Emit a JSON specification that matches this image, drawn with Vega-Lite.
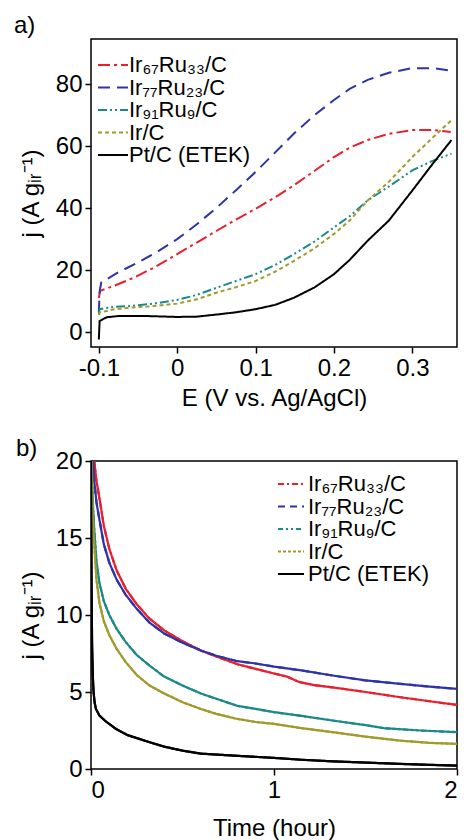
{
  "$schema": "https://vega.github.io/schema/vega-lite/v6.json",
  "padding": {"left": 13, "top": 13, "right": 0, "bottom": 0},
  "spacing": 25,
  "datasets": {
    "a": [
      {"s": "Ir₆₇Ru₃₃/C", "x": -0.1, "y": 11}, {"s": "Ir₆₇Ru₃₃/C", "x": -0.0985, "y": 13.3}, {"s": "Ir₆₇Ru₃₃/C", "x": -0.08, "y": 15}, {"s": "Ir₆₇Ru₃₃/C", "x": -0.055, "y": 17.6}, {"s": "Ir₆₇Ru₃₃/C", "x": -0.03, "y": 20.8}, {"s": "Ir₆₇Ru₃₃/C", "x": 0, "y": 25.2}, {"s": "Ir₆₇Ru₃₃/C", "x": 0.025, "y": 28.9}, {"s": "Ir₆₇Ru₃₃/C", "x": 0.051, "y": 32.8}, {"s": "Ir₆₇Ru₃₃/C", "x": 0.075, "y": 36.3}, {"s": "Ir₆₇Ru₃₃/C", "x": 0.1, "y": 39.8}, {"s": "Ir₆₇Ru₃₃/C", "x": 0.125, "y": 43.5}, {"s": "Ir₆₇Ru₃₃/C", "x": 0.149, "y": 47.4}, {"s": "Ir₆₇Ru₃₃/C", "x": 0.175, "y": 52}, {"s": "Ir₆₇Ru₃₃/C", "x": 0.2, "y": 56.5}, {"s": "Ir₆₇Ru₃₃/C", "x": 0.22, "y": 59.5}, {"s": "Ir₆₇Ru₃₃/C", "x": 0.243, "y": 62}, {"s": "Ir₆₇Ru₃₃/C", "x": 0.27, "y": 64}, {"s": "Ir₆₇Ru₃₃/C", "x": 0.3, "y": 65.2}, {"s": "Ir₆₇Ru₃₃/C", "x": 0.328, "y": 65.2}, {"s": "Ir₆₇Ru₃₃/C", "x": 0.349, "y": 64.6},
      {"s": "Ir₇₇Ru₂₃/C", "x": -0.1, "y": 6.3}, {"s": "Ir₇₇Ru₂₃/C", "x": -0.099, "y": 13}, {"s": "Ir₇₇Ru₂₃/C", "x": -0.097, "y": 16}, {"s": "Ir₇₇Ru₂₃/C", "x": -0.076, "y": 19.2}, {"s": "Ir₇₇Ru₂₃/C", "x": -0.05, "y": 22.5}, {"s": "Ir₇₇Ru₂₃/C", "x": -0.025, "y": 26}, {"s": "Ir₇₇Ru₂₃/C", "x": 0, "y": 30}, {"s": "Ir₇₇Ru₂₃/C", "x": 0.025, "y": 34.8}, {"s": "Ir₇₇Ru₂₃/C", "x": 0.051, "y": 40.3}, {"s": "Ir₇₇Ru₂₃/C", "x": 0.075, "y": 45.8}, {"s": "Ir₇₇Ru₂₃/C", "x": 0.1, "y": 51.7}, {"s": "Ir₇₇Ru₂₃/C", "x": 0.125, "y": 58}, {"s": "Ir₇₇Ru₂₃/C", "x": 0.149, "y": 64.1}, {"s": "Ir₇₇Ru₂₃/C", "x": 0.175, "y": 70}, {"s": "Ir₇₇Ru₂₃/C", "x": 0.2, "y": 74.9}, {"s": "Ir₇₇Ru₂₃/C", "x": 0.22, "y": 78.5}, {"s": "Ir₇₇Ru₂₃/C", "x": 0.243, "y": 81.4}, {"s": "Ir₇₇Ru₂₃/C", "x": 0.27, "y": 83.7}, {"s": "Ir₇₇Ru₂₃/C", "x": 0.3, "y": 85.2}, {"s": "Ir₇₇Ru₂₃/C", "x": 0.328, "y": 85.2}, {"s": "Ir₇₇Ru₂₃/C", "x": 0.349, "y": 84.4},
      {"s": "Ir₉₁Ru₉/C", "x": -0.1, "y": 5.7}, {"s": "Ir₉₁Ru₉/C", "x": -0.099, "y": 7.4}, {"s": "Ir₉₁Ru₉/C", "x": -0.08, "y": 8.2}, {"s": "Ir₉₁Ru₉/C", "x": -0.06, "y": 8.4}, {"s": "Ir₉₁Ru₉/C", "x": -0.03, "y": 9.2}, {"s": "Ir₉₁Ru₉/C", "x": 0, "y": 10.4}, {"s": "Ir₉₁Ru₉/C", "x": 0.025, "y": 12}, {"s": "Ir₉₁Ru₉/C", "x": 0.051, "y": 14.4}, {"s": "Ir₉₁Ru₉/C", "x": 0.075, "y": 16.5}, {"s": "Ir₉₁Ru₉/C", "x": 0.1, "y": 18.7}, {"s": "Ir₉₁Ru₉/C", "x": 0.125, "y": 21.7}, {"s": "Ir₉₁Ru₉/C", "x": 0.149, "y": 25.2}, {"s": "Ir₉₁Ru₉/C", "x": 0.175, "y": 29.2}, {"s": "Ir₉₁Ru₉/C", "x": 0.2, "y": 33.8}, {"s": "Ir₉₁Ru₉/C", "x": 0.22, "y": 37.4}, {"s": "Ir₉₁Ru₉/C", "x": 0.243, "y": 42.5}, {"s": "Ir₉₁Ru₉/C", "x": 0.27, "y": 47}, {"s": "Ir₉₁Ru₉/C", "x": 0.3, "y": 52.2}, {"s": "Ir₉₁Ru₉/C", "x": 0.325, "y": 55.2}, {"s": "Ir₉₁Ru₉/C", "x": 0.35, "y": 57.6},
      {"s": "Ir/C", "x": -0.1, "y": 5.5}, {"s": "Ir/C", "x": -0.099, "y": 6.3}, {"s": "Ir/C", "x": -0.08, "y": 7.4}, {"s": "Ir/C", "x": -0.06, "y": 7.9}, {"s": "Ir/C", "x": -0.03, "y": 8.4}, {"s": "Ir/C", "x": 0, "y": 9.2}, {"s": "Ir/C", "x": 0.025, "y": 10.6}, {"s": "Ir/C", "x": 0.051, "y": 12.8}, {"s": "Ir/C", "x": 0.075, "y": 14.5}, {"s": "Ir/C", "x": 0.1, "y": 16.5}, {"s": "Ir/C", "x": 0.125, "y": 19.5}, {"s": "Ir/C", "x": 0.149, "y": 23}, {"s": "Ir/C", "x": 0.175, "y": 27}, {"s": "Ir/C", "x": 0.2, "y": 31.7}, {"s": "Ir/C", "x": 0.22, "y": 36}, {"s": "Ir/C", "x": 0.243, "y": 42.5}, {"s": "Ir/C", "x": 0.27, "y": 48.5}, {"s": "Ir/C", "x": 0.3, "y": 56.5}, {"s": "Ir/C", "x": 0.325, "y": 62.5}, {"s": "Ir/C", "x": 0.35, "y": 68.4},
      {"s": "Pt/C (ETEK)", "x": -0.1, "y": -2.4}, {"s": "Pt/C (ETEK)", "x": -0.099, "y": 3.6}, {"s": "Pt/C (ETEK)", "x": -0.09, "y": 4.8}, {"s": "Pt/C (ETEK)", "x": -0.075, "y": 5.2}, {"s": "Pt/C (ETEK)", "x": -0.04, "y": 5.2}, {"s": "Pt/C (ETEK)", "x": 0, "y": 4.9}, {"s": "Pt/C (ETEK)", "x": 0.025, "y": 5.0}, {"s": "Pt/C (ETEK)", "x": 0.051, "y": 5.7}, {"s": "Pt/C (ETEK)", "x": 0.075, "y": 6.4}, {"s": "Pt/C (ETEK)", "x": 0.1, "y": 7.4}, {"s": "Pt/C (ETEK)", "x": 0.125, "y": 8.8}, {"s": "Pt/C (ETEK)", "x": 0.149, "y": 11.1}, {"s": "Pt/C (ETEK)", "x": 0.175, "y": 14.4}, {"s": "Pt/C (ETEK)", "x": 0.2, "y": 18.7}, {"s": "Pt/C (ETEK)", "x": 0.22, "y": 23.3}, {"s": "Pt/C (ETEK)", "x": 0.243, "y": 29.5}, {"s": "Pt/C (ETEK)", "x": 0.27, "y": 36}, {"s": "Pt/C (ETEK)", "x": 0.3, "y": 45.7}, {"s": "Pt/C (ETEK)", "x": 0.325, "y": 54}, {"s": "Pt/C (ETEK)", "x": 0.35, "y": 62}
    ],
    "b": [
      {"s": "Ir₆₇Ru₃₃/C", "t": 0.005, "j": 30}, {"s": "Ir₆₇Ru₃₃/C", "t": 0.018, "j": 20}, {"s": "Ir₆₇Ru₃₃/C", "t": 0.03, "j": 18.7}, {"s": "Ir₆₇Ru₃₃/C", "t": 0.046, "j": 17.6}, {"s": "Ir₆₇Ru₃₃/C", "t": 0.07, "j": 15.8}, {"s": "Ir₆₇Ru₃₃/C", "t": 0.1, "j": 14.3}, {"s": "Ir₆₇Ru₃₃/C", "t": 0.14, "j": 12.9}, {"s": "Ir₆₇Ru₃₃/C", "t": 0.19, "j": 11.7}, {"s": "Ir₆₇Ru₃₃/C", "t": 0.25, "j": 10.7}, {"s": "Ir₆₇Ru₃₃/C", "t": 0.32, "j": 9.76}, {"s": "Ir₆₇Ru₃₃/C", "t": 0.4, "j": 9}, {"s": "Ir₆₇Ru₃₃/C", "t": 0.5, "j": 8.3}, {"s": "Ir₆₇Ru₃₃/C", "t": 0.6, "j": 7.7}, {"s": "Ir₆₇Ru₃₃/C", "t": 0.685, "j": 7.3}, {"s": "Ir₆₇Ru₃₃/C", "t": 0.8, "j": 6.8}, {"s": "Ir₆₇Ru₃₃/C", "t": 0.9, "j": 6.5}, {"s": "Ir₆₇Ru₃₃/C", "t": 1, "j": 6.2}, {"s": "Ir₆₇Ru₃₃/C", "t": 1.07, "j": 6.0}, {"s": "Ir₆₇Ru₃₃/C", "t": 1.14, "j": 5.64}, {"s": "Ir₆₇Ru₃₃/C", "t": 1.22, "j": 5.45}, {"s": "Ir₆₇Ru₃₃/C", "t": 1.32, "j": 5.3}, {"s": "Ir₆₇Ru₃₃/C", "t": 1.5, "j": 5.0}, {"s": "Ir₆₇Ru₃₃/C", "t": 1.69, "j": 4.66}, {"s": "Ir₆₇Ru₃₃/C", "t": 1.85, "j": 4.4}, {"s": "Ir₆₇Ru₃₃/C", "t": 2, "j": 4.16},
      {"s": "Ir₇₇Ru₂₃/C", "t": 0.005, "j": 30}, {"s": "Ir₇₇Ru₂₃/C", "t": 0.012, "j": 20}, {"s": "Ir₇₇Ru₂₃/C", "t": 0.018, "j": 18.7}, {"s": "Ir₇₇Ru₂₃/C", "t": 0.03, "j": 17.3}, {"s": "Ir₇₇Ru₂₃/C", "t": 0.046, "j": 16.2}, {"s": "Ir₇₇Ru₂₃/C", "t": 0.07, "j": 14.6}, {"s": "Ir₇₇Ru₂₃/C", "t": 0.1, "j": 13.4}, {"s": "Ir₇₇Ru₂₃/C", "t": 0.14, "j": 12.3}, {"s": "Ir₇₇Ru₂₃/C", "t": 0.19, "j": 11.3}, {"s": "Ir₇₇Ru₂₃/C", "t": 0.25, "j": 10.4}, {"s": "Ir₇₇Ru₂₃/C", "t": 0.32, "j": 9.5}, {"s": "Ir₇₇Ru₂₃/C", "t": 0.4, "j": 8.8}, {"s": "Ir₇₇Ru₂₃/C", "t": 0.5, "j": 8.2}, {"s": "Ir₇₇Ru₂₃/C", "t": 0.6, "j": 7.7}, {"s": "Ir₇₇Ru₂₃/C", "t": 0.685, "j": 7.35}, {"s": "Ir₇₇Ru₂₃/C", "t": 0.8, "j": 7.0}, {"s": "Ir₇₇Ru₂₃/C", "t": 0.9, "j": 6.85}, {"s": "Ir₇₇Ru₂₃/C", "t": 1, "j": 6.65}, {"s": "Ir₇₇Ru₂₃/C", "t": 1.15, "j": 6.4}, {"s": "Ir₇₇Ru₂₃/C", "t": 1.32, "j": 6.07}, {"s": "Ir₇₇Ru₂₃/C", "t": 1.5, "j": 5.75}, {"s": "Ir₇₇Ru₂₃/C", "t": 1.69, "j": 5.53}, {"s": "Ir₇₇Ru₂₃/C", "t": 1.85, "j": 5.35}, {"s": "Ir₇₇Ru₂₃/C", "t": 2, "j": 5.2},
      {"s": "Ir₉₁Ru₉/C", "t": 0.004, "j": 20}, {"s": "Ir₉₁Ru₉/C", "t": 0.009, "j": 17.5}, {"s": "Ir₉₁Ru₉/C", "t": 0.018, "j": 15.5}, {"s": "Ir₉₁Ru₉/C", "t": 0.03, "j": 13.5}, {"s": "Ir₉₁Ru₉/C", "t": 0.046, "j": 12.1}, {"s": "Ir₉₁Ru₉/C", "t": 0.07, "j": 10.9}, {"s": "Ir₉₁Ru₉/C", "t": 0.1, "j": 10}, {"s": "Ir₉₁Ru₉/C", "t": 0.14, "j": 9.1}, {"s": "Ir₉₁Ru₉/C", "t": 0.19, "j": 8.24}, {"s": "Ir₉₁Ru₉/C", "t": 0.25, "j": 7.4}, {"s": "Ir₉₁Ru₉/C", "t": 0.32, "j": 6.72}, {"s": "Ir₉₁Ru₉/C", "t": 0.4, "j": 6.0}, {"s": "Ir₉₁Ru₉/C", "t": 0.5, "j": 5.42}, {"s": "Ir₉₁Ru₉/C", "t": 0.6, "j": 4.9}, {"s": "Ir₉₁Ru₉/C", "t": 0.685, "j": 4.56}, {"s": "Ir₉₁Ru₉/C", "t": 0.8, "j": 4.1}, {"s": "Ir₉₁Ru₉/C", "t": 0.9, "j": 3.9}, {"s": "Ir₉₁Ru₉/C", "t": 1, "j": 3.69}, {"s": "Ir₉₁Ru₉/C", "t": 1.15, "j": 3.45}, {"s": "Ir₉₁Ru₉/C", "t": 1.32, "j": 3.15}, {"s": "Ir₉₁Ru₉/C", "t": 1.5, "j": 2.85}, {"s": "Ir₉₁Ru₉/C", "t": 1.6, "j": 2.65}, {"s": "Ir₉₁Ru₉/C", "t": 1.8, "j": 2.5}, {"s": "Ir₉₁Ru₉/C", "t": 2, "j": 2.39},
      {"s": "Ir/C", "t": 0.004, "j": 20}, {"s": "Ir/C", "t": 0.009, "j": 16.5}, {"s": "Ir/C", "t": 0.018, "j": 14.5}, {"s": "Ir/C", "t": 0.03, "j": 12.3}, {"s": "Ir/C", "t": 0.046, "j": 10.8}, {"s": "Ir/C", "t": 0.07, "j": 9.6}, {"s": "Ir/C", "t": 0.1, "j": 8.7}, {"s": "Ir/C", "t": 0.14, "j": 7.8}, {"s": "Ir/C", "t": 0.19, "j": 6.94}, {"s": "Ir/C", "t": 0.25, "j": 6.1}, {"s": "Ir/C", "t": 0.32, "j": 5.42}, {"s": "Ir/C", "t": 0.4, "j": 4.9}, {"s": "Ir/C", "t": 0.5, "j": 4.34}, {"s": "Ir/C", "t": 0.6, "j": 3.9}, {"s": "Ir/C", "t": 0.685, "j": 3.58}, {"s": "Ir/C", "t": 0.8, "j": 3.25}, {"s": "Ir/C", "t": 0.9, "j": 3.05}, {"s": "Ir/C", "t": 1, "j": 2.93}, {"s": "Ir/C", "t": 1.15, "j": 2.65}, {"s": "Ir/C", "t": 1.32, "j": 2.39}, {"s": "Ir/C", "t": 1.5, "j": 2.1}, {"s": "Ir/C", "t": 1.69, "j": 1.84}, {"s": "Ir/C", "t": 1.85, "j": 1.7}, {"s": "Ir/C", "t": 2, "j": 1.63},
      {"s": "Pt/C (ETEK)", "t": 0, "j": 20.5}, {"s": "Pt/C (ETEK)", "t": 0.003, "j": 12}, {"s": "Pt/C (ETEK)", "t": 0.006, "j": 8}, {"s": "Pt/C (ETEK)", "t": 0.01, "j": 6}, {"s": "Pt/C (ETEK)", "t": 0.014, "j": 5}, {"s": "Pt/C (ETEK)", "t": 0.02, "j": 4.3}, {"s": "Pt/C (ETEK)", "t": 0.027, "j": 3.9}, {"s": "Pt/C (ETEK)", "t": 0.046, "j": 3.47}, {"s": "Pt/C (ETEK)", "t": 0.08, "j": 3.1}, {"s": "Pt/C (ETEK)", "t": 0.137, "j": 2.6}, {"s": "Pt/C (ETEK)", "t": 0.2, "j": 2.2}, {"s": "Pt/C (ETEK)", "t": 0.32, "j": 1.74}, {"s": "Pt/C (ETEK)", "t": 0.4, "j": 1.45}, {"s": "Pt/C (ETEK)", "t": 0.5, "j": 1.19}, {"s": "Pt/C (ETEK)", "t": 0.6, "j": 1.0}, {"s": "Pt/C (ETEK)", "t": 0.78, "j": 0.87}, {"s": "Pt/C (ETEK)", "t": 1, "j": 0.72}, {"s": "Pt/C (ETEK)", "t": 1.15, "j": 0.6}, {"s": "Pt/C (ETEK)", "t": 1.32, "j": 0.5}, {"s": "Pt/C (ETEK)", "t": 1.5, "j": 0.42}, {"s": "Pt/C (ETEK)", "t": 1.69, "j": 0.33}, {"s": "Pt/C (ETEK)", "t": 1.85, "j": 0.27}, {"s": "Pt/C (ETEK)", "t": 2, "j": 0.22}
    ]
  },
  "vconcat": [
    {
      "width": 366,
      "height": 308,
      "title": {"text": "a)", "anchor": "start", "frame": "group", "dx": -77, "offset": 1},
      "data": {"name": "a"},
      "mark": {"type": "line", "strokeWidth": 2, "clip": true},
      "encoding": {
        "x": {"field": "x", "type": "quantitative", "title": "E (V vs. Ag/AgCl)",
              "scale": {"domain": [-0.11, 0.357], "nice": false, "zero": false},
              "axis": {"values": [-0.1, 0, 0.1, 0.2, 0.3], "format": "~g", "labelExpr": "replace(datum.label, '−', '-')", "titlePadding": 6, "labelOverlap": false}},
        "y": {"field": "y", "type": "quantitative", "title": "j (A gᵢᵣ⁻¹)",
              "scale": {"domain": [-4.8, 94.6], "nice": false, "zero": false},
              "axis": {"values": [0, 20, 40, 60, 80], "titlePadding": 12}},
        "color": {"field": "s", "type": "nominal", "title": null,
                  "scale": {"domain": ["Ir₆₇Ru₃₃/C", "Ir₇₇Ru₂₃/C", "Ir₉₁Ru₉/C", "Ir/C", "Pt/C (ETEK)"], "range": ["#e8202e", "#2e34a8", "#1a8a88", "#a09c2c", "#000000"]},
                  "legend": {"orient": "none", "legendX": 11, "legendY": 15, "symbolType": "M-1.5,0H1.5", "symbolSize": 400, "rowPadding": 0.5, "labelOffset": 5}},
        "strokeDash": {"field": "s", "type": "nominal", "title": null,
                  "scale": {"domain": ["Ir₆₇Ru₃₃/C", "Ir₇₇Ru₂₃/C", "Ir₉₁Ru₉/C", "Ir/C", "Pt/C (ETEK)"], "range": [[12, 4, 3, 4], [12, 7], [9, 3, 2, 3, 2, 3], [4, 3], [1, 0]]},
                  "legend": {"orient": "none", "legendX": 11, "legendY": 15, "symbolType": "M-1.5,0H1.5", "symbolSize": 400, "rowPadding": 0.5, "labelOffset": 5}}
      }
    },
    {
      "width": 366,
      "height": 308,
      "title": {"text": "b)", "anchor": "start", "frame": "group", "dx": -75, "offset": -12},
      "data": {"name": "b"},
      "encoding": {
        "x": {"field": "t", "type": "quantitative", "title": "Time (hour)",
              "scale": {"domain": [0, 2], "nice": false},
              "axis": {"values": [0, 1, 2], "labelExpr": "datum.value == 0 ? '0' : datum.value == 1 ? '1' : '2'", "titlePadding": 14, "labelOverlap": false}},
        "y": {"field": "j", "type": "quantitative", "title": "j (A gᵢᵣ⁻¹)",
              "scale": {"domain": [0, 20], "nice": false},
              "axis": {"values": [0, 5, 10, 15, 20], "titlePadding": 12}},
        "color": {"field": "s", "type": "nominal", "title": null,
                  "scale": {"domain": ["Ir₆₇Ru₃₃/C", "Ir₇₇Ru₂₃/C", "Ir₉₁Ru₉/C", "Ir/C", "Pt/C (ETEK)"], "range": ["#e8202e", "#2e34a8", "#1a8a88", "#a09c2c", "#000000"]},
                  "legend": {"orient": "none", "legendX": 189, "legendY": 12, "symbolType": "M-1.3,0H1.3", "symbolSize": 400, "rowPadding": 0.5, "labelOffset": 6}}
      },
      "layer": [
        {
          "mark": {"type": "line", "strokeWidth": 2.2, "clip": true},
          "encoding": {
            "strokeDash": {"field": "s", "type": "nominal", "title": null,
                  "scale": {"domain": ["Ir₆₇Ru₃₃/C", "Ir₇₇Ru₂₃/C", "Ir₉₁Ru₉/C", "Ir/C", "Pt/C (ETEK)"], "range": [[6, 3, 2, 3], [7, 5], [5, 3, 2, 3, 2, 3], [3, 2], [1, 0]]},
                  "legend": {"orient": "none", "legendX": 189, "legendY": 12, "symbolType": "M-1.3,0H1.3", "symbolSize": 400, "rowPadding": 0.5, "labelOffset": 6}}
          }
        },
        {
          "mark": {"type": "line", "strokeWidth": 2.2, "clip": true}
        }
      ]
    }
  ],
  "resolve": {"scale": {"color": "independent", "strokeDash": "independent"}, "legend": {"color": "independent", "strokeDash": "independent"}},
  "config": {
    "font": "Liberation Sans",
    "view": {"stroke": "black", "strokeWidth": 1.5},
    "title": {"fontSize": 24, "fontWeight": "normal", "color": "black", "font": "Liberation Sans"},
    "axis": {"grid": false, "domain": false, "tickColor": "black", "tickSize": 6, "tickWidth": 1.5, "labelFontSize": 24, "labelColor": "black", "labelPadding": 3, "titleFontSize": 24, "titleFontWeight": "normal", "titleColor": "black", "labelFont": "Liberation Sans", "titleFont": "Liberation Sans"},
    "legend": {"symbolStrokeWidth": 2, "labelFontSize": 22, "labelFont": "Liberation Sans", "labelColor": "black", "padding": 0, "labelLimit": 300}
  }
}
